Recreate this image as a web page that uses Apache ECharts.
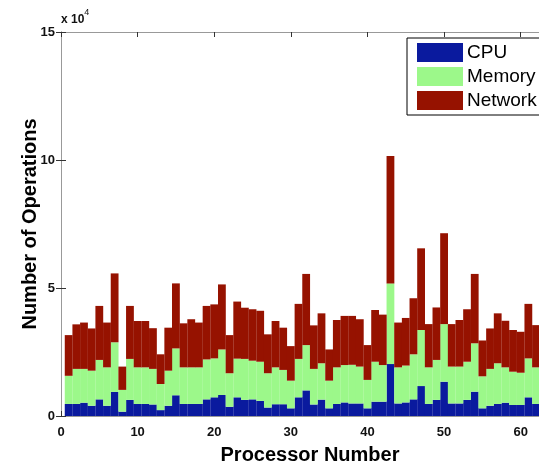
<!DOCTYPE html>
<html>
<head>
<meta charset="utf-8">
<script src="https://cdn.jsdelivr.net/npm/echarts@6/dist/echarts.min.js"></script>
<style>
html,body{margin:0;padding:0;background:#fff;}
#c{width:539px;height:467px;}
</style>
</head>
<body>
<div id="c"></div>
<script>
// Values in units of 10^4 operations
const processors = [1,2,3,4,5,6,7,8,9,10,11,12,13,14,15,16,17,18,19,20,21,22,23,24,25,26,27,28,29,30,31,32,33,34,35,36,37,38,39,40,41,42,43,44,45,46,47,48,49,50,51,52,53,54,55,56,57,58,59,60,61,62];
const cpu = [0.47,0.47,0.52,0.40,0.65,0.40,0.94,0.17,0.63,0.47,0.47,0.45,0.23,0.40,0.81,0.47,0.47,0.47,0.65,0.73,0.82,0.36,0.73,0.63,0.65,0.59,0.33,0.46,0.46,0.30,0.73,1.00,0.45,0.64,0.30,0.47,0.53,0.49,0.49,0.30,0.56,0.56,2.03,0.49,0.53,0.65,1.17,0.47,0.63,1.34,0.49,0.49,0.63,0.95,0.30,0.40,0.47,0.52,0.43,0.43,0.73,0.47];
const memory = [1.10,1.37,1.32,1.37,1.54,1.50,1.94,0.85,1.60,1.43,1.43,1.39,1.02,1.37,1.83,1.43,1.43,1.43,1.56,1.52,1.78,1.31,1.51,1.60,1.51,1.53,1.34,1.44,1.34,1.08,1.50,1.77,1.39,1.42,1.08,1.43,1.46,1.51,1.44,1.11,1.56,1.43,3.15,1.41,1.44,1.76,2.19,1.43,1.56,2.25,1.44,1.44,1.49,1.89,1.25,1.44,1.59,1.38,1.30,1.26,1.52,1.43];
const network = [1.59,1.74,1.81,1.65,2.11,1.75,2.69,0.91,2.07,1.81,1.81,1.59,1.16,1.68,2.54,1.72,1.88,1.75,2.09,2.11,2.54,1.49,2.23,2.00,2.01,1.99,1.52,1.81,1.65,1.35,2.15,2.78,1.70,1.95,1.22,1.85,1.92,1.91,1.85,1.36,2.02,1.97,4.98,1.75,1.86,2.19,3.19,1.69,2.05,3.55,1.66,1.82,2.05,2.71,1.40,1.58,1.95,1.82,1.63,1.60,2.13,1.65];
const seriesNames = ['CPU','Memory','Network'];
const xTicks = [0,10,20,30,40,50,60];
const yTicks = [0,5,10,15];
const xMax = 65;

const colors = ['#0a1a9e','#9cf88a','#961200'];
// slots 0..xMax on a category axis (boundaryGap false) so bars sit on integer positions
const slots = [];
for (let k = 0; k <= xMax; k++) slots.push(String(k));
const toSlots = arr => slots.map(s => { const i = processors.indexOf(Number(s)); return i >= 0 ? arr[i] : '-'; });

const chart = echarts.init(document.getElementById('c'), null, {renderer:'canvas'});
const font = 'Liberation Sans, Arial, sans-serif';
const tickStyle = {show:true, inside:true, length:5, lineStyle:{color:'#333'}};
chart.setOption({
  animation:false,
  backgroundColor:'#fff',
  grid:{left:61, top:32, width:498, height:384, containLabel:false, outerBoundsMode:'none'},
  legend:{
    orient:'vertical', left:407, top:38, itemWidth:46, itemHeight:19, itemGap:5,
    padding:[5,60,5,10], borderColor:'#000', borderWidth:1, backgroundColor:'#fff',
    icon:'rect', data:seriesNames,
    textStyle:{fontFamily:font, fontSize:19, lineHeight:19, color:'#000', padding:[0,0,0,-1]}
  },
  xAxis:[{
    type:'category', data:slots, boundaryGap:false, show:false
  },{
    type:'value', position:'bottom', min:0, max:xMax, interval:10,
    axisLine:{show:true, lineStyle:{color:'#999'}}, axisTick:tickStyle, splitLine:{show:false},
    axisLabel:{color:'#111', fontSize:13, fontWeight:'bold', fontFamily:font, margin:10,
      formatter:v=> xTicks.includes(v)? String(v):''},
    name:'Processor Number', nameLocation:'middle', nameGap:29, nameMoveOverlap:false,
    nameTextStyle:{fontSize:20, fontWeight:'bold', color:'#000', fontFamily:font}
  },{
    type:'value', position:'top', min:0, max:xMax, interval:10,
    axisLine:{show:true, lineStyle:{color:'#999'}}, axisTick:tickStyle, axisLabel:{show:false}, splitLine:{show:false}
  }],
  yAxis:[{
    type:'value', min:0, max:15, interval:5,
    axisLine:{show:true, lineStyle:{color:'#999'}}, axisTick:tickStyle,
    splitLine:{show:false},
    axisLabel:{color:'#111', fontSize:13, fontWeight:'bold', fontFamily:font, margin:6,
      formatter:v=> yTicks.includes(v)? String(v):''},
    name:'Number of Operations', nameLocation:'middle', nameGap:21, nameMoveOverlap:false,
    nameTextStyle:{fontSize:20, fontWeight:'bold', color:'#000', fontFamily:font}
  },{
    type:'value', position:'right', min:0, max:15, interval:5,
    axisLine:{show:true, lineStyle:{color:'#999'}}, axisTick:tickStyle, axisLabel:{show:false}, splitLine:{show:false}
  }],
  graphic:[{
    type:'text', left:61, top:8,
    style:{
      text:'{a|x 10}{b|4}',
      rich:{
        a:{fontSize:12, fontWeight:'bold', fill:'#111', fontFamily:font, padding:[6,0,0,0]},
        b:{fontSize:9, fill:'#111', fontFamily:font, verticalAlign:'top'}
      }
    }
  }],
  series:[
    {name:seriesNames[0], type:'bar', stack:'t', xAxisIndex:0, yAxisIndex:0, data:toSlots(cpu), barWidth:7.8, itemStyle:{color:colors[0]}},
    {name:seriesNames[1], type:'bar', stack:'t', xAxisIndex:0, yAxisIndex:0, data:toSlots(memory), barWidth:7.8, itemStyle:{color:colors[1]}},
    {name:seriesNames[2], type:'bar', stack:'t', xAxisIndex:0, yAxisIndex:0, data:toSlots(network), barWidth:7.8, itemStyle:{color:colors[2]}}
  ]
});
</script>
</body>
</html>
